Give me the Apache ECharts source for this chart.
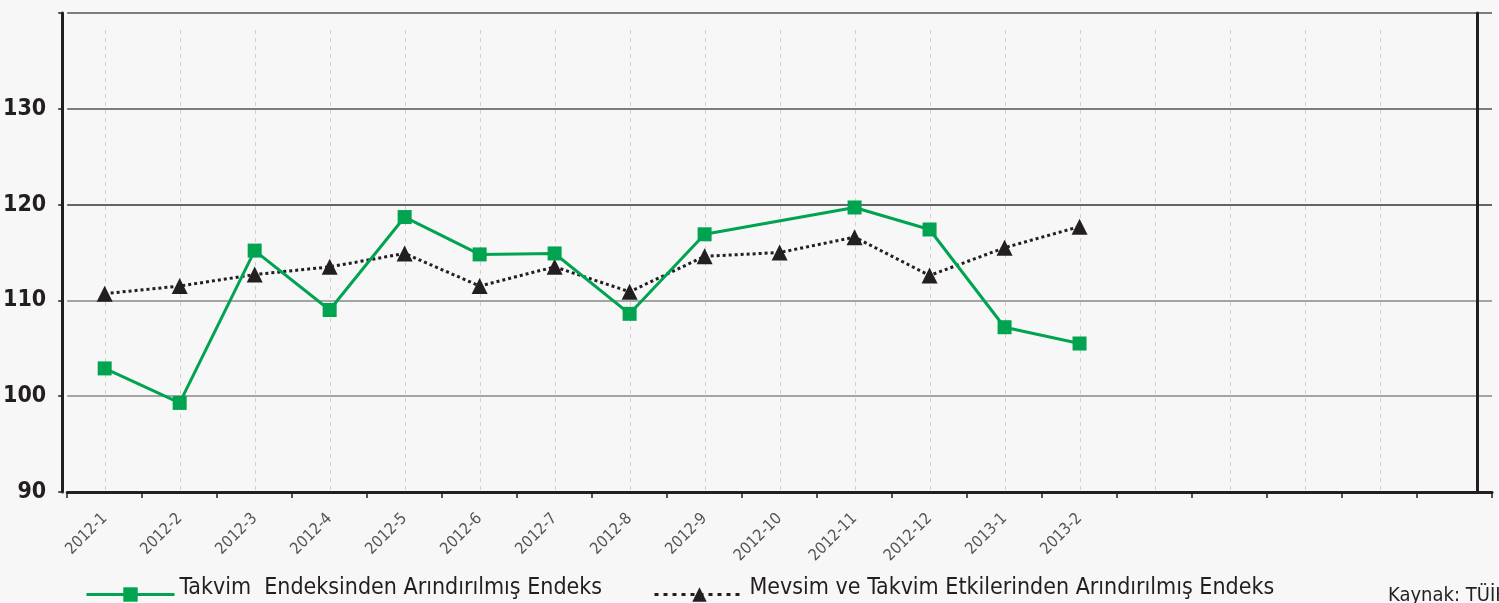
<!DOCTYPE html>
<html>
<head>
<meta charset="utf-8">
<script src="https://cdn.jsdelivr.net/npm/echarts@6/dist/echarts.min.js"></script>
<style>
html,body{margin:0;padding:0;background:#f7f7f7;}
#container{width:1499px;height:603px;}
</style>
</head>
<body>
<div id="container"></div>
<script>
// kategoriler (son 5 bos)
var categories = ['2012-1','2012-2','2012-3','2012-4','2012-5','2012-6','2012-7','2012-8','2012-9','2012-10','2012-11','2012-12','2013-1','2013-2','','','','',''];
// Takvim Endeksinden Arındırılmış Endeks (2012-10 yok)
var takvim = [102.9, 99.3, 115.2, 109.0, 118.7, 114.8, 114.9, 108.6, 116.9, null, 119.7, 117.4, 107.2, 105.5];
// Mevsim ve Takvim Etkilerinden Arındırılmış Endeks
var mevsim = [110.7, 111.5, 112.7, 113.5, 114.9, 111.5, 113.5, 110.9, 114.6, 115.0, 116.6, 112.6, 115.5, 117.7];
var yTicks = [90, 100, 110, 120, 130];

var nameTakvim = 'Takvim  Endeksinden Arındırılmış Endeks';
var nameMevsim = 'Mevsim ve Takvim Etkilerinden Arındırılmış Endeks';
var font = "'DejaVu Sans Condensed', sans-serif";
var ink = '#231f20';
var green = '#00a450';

var myChart = echarts.init(document.getElementById('container'));

function legendText(name) {
	return '{t|' + name + '}';
}
var legendRich = {
	t: {color: ink, fontFamily: font, fontSize: 23, padding: [0, 0, 12, 0]}
};

var option = {
	backgroundColor: '#f7f7f7',
	animation: false,
	grid: [
		{left: 67, right: 7, top: 13, bottom: 111},
		// sadece dikey kesikli cizgiler icin
		{left: 105, right: 119, top: 30, bottom: 111}
	],
	xAxis: [
		{
			type: 'category',
			gridIndex: 0,
			data: categories,
			axisLine: {lineStyle: {color: ink, width: 3}},
			axisTick: {show: true, length: 6, lineStyle: {color: ink, width: 1.5}},
			axisLabel: {
				interval: 0,
				rotate: 45,
				margin: 24,
				color: '#555',
				fontFamily: font,
				fontSize: 16
			},
			splitLine: {show: false}
		},
		{
			type: 'value',
			gridIndex: 1,
			min: 0,
			max: 17,
			interval: 1,
			axisLine: {show: false},
			axisTick: {show: false},
			axisLabel: {show: false},
			splitLine: {show: true, lineStyle: {color: '#cfcfcf', type: [4, 4], width: 1}}
		}
	],
	yAxis: [
		{
			type: 'value',
			gridIndex: 0,
			min: 90,
			max: 140,
			interval: 10,
			offset: 5,
			axisLine: {show: true, lineStyle: {color: ink, width: 3}},
			axisTick: {show: true, length: 4, lineStyle: {color: ink, width: 1.5}},
			axisLabel: {
				margin: 16,
				color: ink,
				fontFamily: font,
				fontWeight: 'bold',
				fontSize: 23,
				formatter: function (v) {
					return yTicks.indexOf(v) > -1 ? String(v) : '';
				}
			},
			splitLine: {
				show: true,
				lineStyle: {color: ['#222', '#888', '#888', '#333', '#555', '#555'], width: 1.5}
			}
		},
		{
			// sag kenardaki kalin cizgi
			type: 'value',
			gridIndex: 0,
			position: 'right',
			offset: -15,
			min: 90,
			max: 140,
			interval: 10,
			axisLine: {show: true, lineStyle: {color: ink, width: 3}},
			axisTick: {show: false},
			axisLabel: {show: false},
			splitLine: {show: false}
		},
		{
			type: 'value',
			gridIndex: 1,
			min: 0,
			max: 1,
			show: false
		}
	],
	legend: [
		{
			left: 80,
			top: 572,
			itemWidth: 88,
			itemHeight: 18,
			itemGap: 0,
			data: [nameTakvim],
			formatter: legendText,
			lineStyle: {width: 3},
			textStyle: {rich: legendRich}
		},
		{
			left: 648,
			top: 572,
			itemWidth: 90,
			itemHeight: 18,
			itemGap: 0,
			data: [nameMevsim],
			formatter: legendText,
			lineStyle: {width: 3, type: [4, 5]},
			textStyle: {rich: legendRich}
		}
	],
	graphic: [
		{
			type: 'text',
			left: 1388,
			top: 586,
			style: {text: 'Kaynak: TÜİK', fill: ink, font: "20px 'DejaVu Sans Condensed', sans-serif"}
		}
	],
	series: [
		{
			name: nameMevsim,
			type: 'line',
			xAxisIndex: 0,
			yAxisIndex: 0,
			data: mevsim,
			symbol: 'triangle',
			symbolSize: 16,
			itemStyle: {color: ink},
			lineStyle: {color: ink, width: 3, type: 'dotted'},
			z: 3
		},
		{
			name: nameTakvim,
			type: 'line',
			xAxisIndex: 0,
			yAxisIndex: 0,
			data: takvim,
			connectNulls: true,
			symbol: 'rect',
			symbolSize: 14,
			itemStyle: {color: green},
			lineStyle: {color: green, width: 3},
			z: 4
		}
	]
};
if (option && typeof option === "object") {
	myChart.setOption(option, true);
}
</script>
</body>
</html>
